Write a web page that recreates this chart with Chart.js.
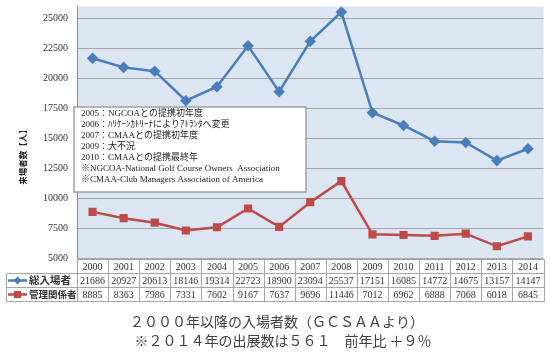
<!DOCTYPE html>
<html lang="ja">
<head>
<meta charset="utf-8">
<script src="https://cdn.jsdelivr.net/npm/chart.js@4.4.1/dist/chart.umd.min.js"></script>
<style>
  html, body { margin: 0; padding: 0; background: #fff; }
  #wrap { width: 550px; height: 360px; }
</style>
</head>
<body>
<div id="wrap"><canvas id="chart" width="550" height="360"></canvas></div>
<script>
// === データ ===
const years = ['2000', '2001', '2002', '2003', '2004', '2005', '2006', '2007', '2008', '2009', '2010', '2011', '2012', '2013', '2014'];
const totalVisitors = [21686, 20927, 20613, 18146, 19314, 22723, 18900, 23094, 25537, 17151, 16085, 14772, 14675, 13157, 14147];
const managers = [8885, 8363, 7986, 7331, 7602, 9167, 7637, 9696, 11446, 7012, 6962, 6888, 7068, 6018, 6845];
const seriesNames = ['総入場者', '管理関係者'];
const yTicks = [5000, 7500, 10000, 12500, 15000, 17500, 20000, 22500, 25000];
const yTitle = '来場者数【人】';
const notes = [
  '2005：NGCOAとの提携初年度',
  '2006：ﾊﾘｹｰﾝｶﾄﾘｰﾅによりｱﾄﾗﾝﾀへ変更',
  '2007：CMAAとの提携初年度',
  '2009：大不況',
  '2010：CMAAとの提携最終年',
  '※NGCOA-National Golf Course Owners  Association',
  '※CMAA-Club Managers Association of America',
];
const captions = [
  '２０００年以降の入場者数（ＧＣＳＡＡより）',
  '※２０１４年の出展数は５６１　前年比 ＋９％',
];

const SERIF = '"Liberation Serif", "Noto Sans CJK JP", serif';
const GOTHIC = '"Noto Sans CJK JP", sans-serif';
const GRID = '#A6A6A6';
const TEXT = '#333333';

function drawMarker(ctx, style, cx, cy, color) {
  ctx.fillStyle = color;
  ctx.beginPath();
  if (style === 'rectRot') {
    ctx.moveTo(cx, cy - 4);
    ctx.lineTo(cx + 4, cy);
    ctx.lineTo(cx, cy + 4);
    ctx.lineTo(cx - 4, cy);
    ctx.closePath();
  } else {
    ctx.rect(cx - 3.5, cy - 3.5, 7, 7);
  }
  ctx.fill();
}

// === 背景・データ表・注記 ===
const tablePlugin = {
  id: 'dataTable',
  beforeDraw(chart) {
    const { ctx, chartArea: a } = chart;
    ctx.save();
    ctx.fillStyle = '#DCE6F2';
    ctx.fillRect(a.left, a.top, a.right - a.left, a.bottom - a.top);
    ctx.restore();
  },
  afterDraw(chart) {
    const { ctx, chartArea: a } = chart;
    const xs = chart.scales.x;
    const colW = (a.right - a.left) / years.length;
    const rowH = 14;
    const top = Math.round(a.bottom) + 0.5;
    const legLeft = 6.5;
    const left = Math.round(a.left) + 0.5;
    const right = Math.round(a.right) + 0.5;

    ctx.save();
    ctx.strokeStyle = GRID;
    ctx.lineWidth = 1;
    ctx.beginPath();
    ctx.moveTo(left, top); ctx.lineTo(right, top);
    for (let r = 1; r <= 3; r++) {
      ctx.moveTo(legLeft, top + r * rowH);
      ctx.lineTo(right, top + r * rowH);
    }
    for (let i = 0; i <= years.length; i++) {
      const cx = Math.round(a.left + i * colW) + 0.5;
      ctx.moveTo(cx, top);
      ctx.lineTo(cx, top + 3 * rowH);
    }
    ctx.moveTo(legLeft, top + rowH);
    ctx.lineTo(legLeft, top + 3 * rowH);
    ctx.stroke();

    // 表の数値
    ctx.fillStyle = TEXT;
    ctx.font = '10px ' + SERIF;
    ctx.textAlign = 'center';
    ctx.textBaseline = 'middle';
    const rows = [years, totalVisitors, managers];
    rows.forEach((row, r) => {
      row.forEach((v, i) => {
        ctx.fillText(String(v), xs.getPixelForValue(i), top + r * rowH + rowH / 2 + 0.5);
      });
    });

    // 凡例
    chart.data.datasets.forEach((ds, d) => {
      const cy = top + (d + 1) * rowH + rowH / 2;
      ctx.strokeStyle = ds.borderColor;
      ctx.lineWidth = 2.5;
      ctx.beginPath();
      ctx.moveTo(8, cy); ctx.lineTo(27, cy);
      ctx.stroke();
      drawMarker(ctx, ds.pointStyle, 17.5, cy, ds.borderColor);
      ctx.fillStyle = TEXT;
      ctx.textAlign = 'left';
      ctx.font = (d === 0 ? 'bold 10.5px ' : 'bold 9.5px ') + GOTHIC;
      ctx.fillText(ds.label, 29, cy);
    });

    // 軸タイトル
    ctx.save();
    ctx.translate(23, 155);
    ctx.rotate(-Math.PI / 2);
    ctx.font = 'bold 8.5px ' + GOTHIC;
    ctx.fillStyle = '#222';
    ctx.textAlign = 'center';
    ctx.fillText(yTitle, 0, 0);
    ctx.restore();

    // 注記ボックス
    ctx.fillStyle = '#ffffff';
    ctx.fillRect(74, 107, 232, 85);
    ctx.strokeStyle = '#A0A0A0';
    ctx.lineWidth = 1.5;
    ctx.strokeRect(74, 107, 232, 85);
    ctx.fillStyle = '#222';
    ctx.font = '9px ' + SERIF;
    ctx.textAlign = 'left';
    notes.forEach((t, i) => ctx.fillText(t, 81, 114 + i * 11));

    // キャプション
    ctx.fillStyle = '#404040';
    ctx.font = '14px ' + GOTHIC;
    ctx.textAlign = 'center';
    ctx.fillText(captions[0], 277, 322);
    ctx.fillText(captions[1], 283, 341);
    ctx.restore();
  },
};

new Chart(document.getElementById('chart'), {
  type: 'line',
  data: {
    labels: years,
    datasets: [
      {
        label: seriesNames[0],
        data: totalVisitors,
        borderColor: '#4A7EBB',
        backgroundColor: '#4A7EBB',
        borderWidth: 2.5,
        pointStyle: 'rectRot',
        pointRadius: 4,
        tension: 0,
      },
      {
        label: seriesNames[1],
        data: managers,
        borderColor: '#BE4B48',
        backgroundColor: '#BE4B48',
        borderWidth: 2.5,
        pointStyle: 'rect',
        pointRadius: 4,
        tension: 0,
      },
    ],
  },
  options: {
    responsive: false,
    animation: false,
    layout: { padding: { top: 5, right: 3, bottom: 101.5, left: 0 } },
    plugins: {
      legend: { display: false },
      tooltip: { enabled: false },
    },
    scales: {
      x: { display: false, offset: true },
      y: {
        min: 5000,
        max: 26000,
        afterBuildTicks: (scale) => { scale.ticks = yTicks.map((v) => ({ value: v })); },
        afterFit: (scale) => { scale.width = 77; },
        grid: { color: GRID, drawTicks: true, tickLength: 9, tickColor: 'rgba(0,0,0,0)', lineWidth: 1 },
        border: { display: true, color: '#8C8C8C' },
        ticks: {
          padding: 0,
          color: TEXT,
          font: { family: SERIF, size: 10, lineHeight: 1 },
          callback: (v) => String(v),
        },
      },
    },
  },
  plugins: [tablePlugin],
});
</script>
</body>
</html>
